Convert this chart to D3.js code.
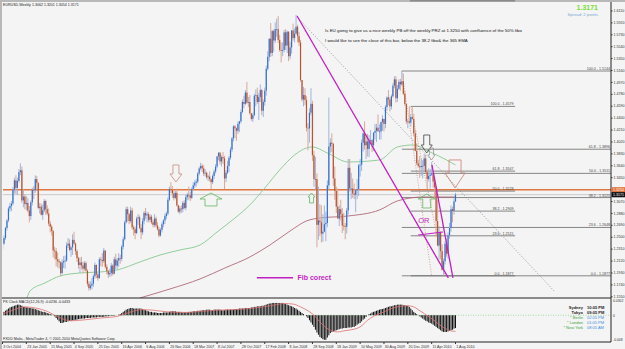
<!DOCTYPE html>
<html>
<head>
<meta charset="utf-8">
<script src="https://cdn.jsdelivr.net/npm/d3@7"></script>
<style>
  body { margin: 0; background: #f4f4f4; }
  svg { display: block; font-family: "Liberation Sans", Arial, sans-serif; }
</style>
</head>
<body>
<div id="chart"></div>
<script>
// EURUSD weekly, week of 3 Oct 2004 .. week of 1 Aug 2010, prices in 1/10000
const firstWeek = new Date(2004, 9, 3)
const firstOpen = 12300
const closes = [
  12390,12480,12640,12760,12950,12990,13030,13250,13400,13280,13390,13530,13560,
  13080,13140,13020,13040,12920,12830,13050,13250,13240,13420,13360,12960,12980,12850,12920,13070,12940,12870,12710,12660,12590,12280,12270,12140,12110,12090,11920,12090,12110,12120,12360,12390,12290,12330,12450,12390,12270,12160,12050,12090,12040,11990,12080,11960,11750,11680,11720,11750,11870,12050,11900,11840,
  12140,12130,12110,12280,12020,11950,11900,11920,12040,11910,12140,12040,12120,12160,12150,12340,12460,12730,12940,12860,12750,12920,12650,12620,12560,12790,12810,12640,12570,12750,12880,12840,12860,12770,12820,12730,12690,12790,12680,12620,12520,12610,12700,12760,12830,12870,13090,13260,13250,13190,13120,13200,
  13000,12900,12950,12940,13040,12960,13130,13170,13160,13120,13260,13320,13360,13380,13510,13590,13630,13590,13510,13520,13450,13460,13420,13370,13470,13540,13620,13780,13840,13700,13770,13750,13430,13520,13630,13760,13890,14070,14260,14230,14190,14300,14340,14490,14650,14620,14800,14640,14650,14470,14380,14440,14750,
  14760,14650,14730,14840,14510,14650,14830,15180,15370,15660,15430,15780,15630,15810,15810,15640,15480,15470,15480,15760,15550,15770,15380,15520,15790,15670,15740,15850,15700,15600,15000,14690,14760,14680,14240,14230,14480,14620,13800,13420,13420,12690,12760,12730,12550,12580,12700,12720,13320,13940,14000,13980,
  13430,13230,12980,12790,12940,12860,12680,12670,12660,12920,13600,13270,13270,13190,13170,13240,13260,13640,13650,14000,14150,13960,14020,13900,14030,14040,13960,14160,14190,14240,14180,14180,14330,14380,14300,14570,14720,14690,14580,14740,14910,15010,14710,14860,14970,14930,14980,14780,14620,14340,14340,14320,
  14410,14380,14150,13870,13670,13630,13610,13630,13630,13750,13530,13420,13470,13490,13510,13380,13290,12750,12360,12570,12270,11970,12110,12390,12230,12520,12640,12940,12910,13062,13171
]
const highs = [
  12420,12520,12660,12780,12980,13040,13070,13290,13440,13480,13440,13580,13670,
  13620,13260,13180,13150,13120,12990,13080,13280,13310,13480,13470,13370,13040,13030,13010,13100,13090,13000,12950,12750,12690,12610,12340,12320,12250,12150,12110,12140,12190,12200,12410,12480,12460,12350,12540,12580,12410,12300,12180,12170,12180,12100,12110,12110,11980,11790,11790,11840,11900,12090,12060,11920,
  12170,12180,12240,12320,12270,12060,11970,11990,12080,12060,12180,12230,12160,12240,12210,12370,12500,12760,12980,12980,12880,12980,12960,12680,12660,12820,12860,12840,12700,12800,12910,12960,12900,12890,12860,12850,12770,12860,12820,12730,12660,12640,12730,12780,12870,12900,13130,13300,13370,13310,13230,13230,
  13270,13010,12990,13000,13070,13080,13170,13200,13300,13220,13290,13370,13400,13420,13530,13620,13680,13660,13640,13580,13540,13490,13540,13430,13500,13570,13660,13790,13850,13850,13800,13850,13790,13560,13710,13790,13930,14090,14280,14280,14240,14340,14350,14530,14690,14750,14840,14970,14730,14760,14450,14480,14780,
  14850,14880,14790,14930,14860,14690,14880,15230,15460,15660,15910,15800,15810,15920,15980,16020,15720,15600,15600,15800,15810,15790,15780,15610,15800,15900,15820,16040,15880,15770,15640,15000,14890,14870,14740,14310,14550,14870,14670,13870,13770,13510,13300,13020,13000,12860,13000,12900,13400,14720,14070,14150,
  14000,13620,13300,13270,13000,13090,12960,12880,12720,12960,13740,13740,13520,13430,13350,13250,13420,13660,13740,14050,14160,14340,14120,14140,14120,14200,14060,14170,14300,14300,14450,14290,14340,14440,14380,14600,14740,14840,14730,14770,14950,15060,15060,14920,15010,15020,15144,15100,14830,14620,14380,14580,
  14460,14580,14460,14200,13990,13730,13790,13740,13720,13820,13810,13570,13590,13580,13690,13530,13460,13310,13090,12670,12590,12380,12150,12430,12470,12570,12720,13000,12980,13110,13201
]
const lows = [
  12280,12370,12450,12600,12730,12900,12910,13000,13190,13180,13170,13360,13480,
  13040,12970,12940,12920,12890,12730,12770,13000,13100,13200,13230,12940,12870,12840,12770,12890,12850,12840,12670,12570,12520,12170,12140,12030,12010,11990,11870,11900,12000,11990,12100,12320,12270,12180,12210,12370,12210,12100,11990,11920,11980,11920,11960,11940,11710,11640,11650,11660,11700,11830,11840,11800,
  11830,12030,12020,12080,11990,11900,11840,11860,11870,11880,11900,11980,11990,12020,12070,12110,12300,12440,12710,12740,12700,12720,12610,12520,12460,12540,12690,12620,12460,12530,12700,12780,12730,12730,12730,12700,12650,12650,12650,12600,12490,12500,12570,12650,12700,12780,12840,13070,13200,13120,13080,13100,
  12980,12880,12860,12880,12890,12940,12920,13080,13090,13070,13100,13240,13280,13300,13350,13480,13560,13530,13470,13460,13420,13390,13380,13260,13340,13420,13510,13590,13720,13650,13620,13660,13260,13370,13500,13530,13730,13850,14020,14070,14030,14140,14170,14310,14470,14550,14600,14620,14570,14450,14350,14330,14420,
  14580,14620,14360,14650,14440,14410,14590,14750,15150,15300,15370,15380,15450,15590,15690,15590,15450,15280,15380,15440,15480,15430,15300,15330,15420,15630,15600,15730,15600,15540,14970,14660,14580,14600,14180,13880,14000,14440,13710,13300,13250,12330,12450,12510,12410,12420,12570,12430,12650,13250,13840,13850,
  13310,13090,12880,12790,12670,12760,12560,12600,12460,12550,12850,13220,13100,13120,13100,12890,13100,13150,13460,13550,13860,13890,13740,13780,13770,13980,13850,13870,14050,14010,14180,14050,14050,14190,14180,14230,14510,14600,14500,14530,14720,14870,14640,14650,14840,14830,14900,14760,14590,14300,14230,14300,
  14260,14370,14100,13860,13640,13600,13440,13470,13430,13550,13510,13260,13380,13270,13470,13280,13110,12520,12350,12140,12140,11960,11877,12060,12180,12150,12470,12580,12730,12850,13054
]
// MACD(12,26,9) main line per week, in 1/1000
const macdMain = [
  4,6,8,10,12,14,15,16,17,18,19,19, 18,17,15,15,14,14,13,13,12,12, 11,10,9,8,7,6,6,5,4,3,2,1,0,
  -2,-5,-8,-11,-14, -14,-13,-12,-12,-11,-10,-10, -9,-9,-8,-8,-7,-7,-6,-6,-6,-5,-5, -5,-5,-4,-4,-4,-4,-3,-3,-3,
  -3,-3,-2,-2,-2,-1,-1,-1,-1,0,0, 1,2,4,6,8,10,11,12, 13,13,12,12,12,12,12,12, 11,10,9,8,7,6,6,5,
  5,5,4,4,4,4,5,5,5,5, 6,7,7,7,7,6,6,6,5,5,5,5,5, 6,6,6,7,7,7,8,8,8, 9,9,9,10,10,10,9,9,10,10,10,
  10,10,9,9,9,10,10,10,10,10,10, 11,11,11,12,12,12,12,13,13,13,13, 14,14,15,15,16,16,16,17,17, 18,19,20,21,21,22,22,
  22,22,22,22,22,22,21, 20,19,18,17,16,15, 13,12,10,8,6, 4,2,0,-2,-5, -9,-13,-17,-21, -26,-31,-35,-39, -41,-43,-44,-44,
  -40,-36,-32, -30,-29,-28,-27,-26, -25,-24,-24,-23,-23,-23,-22,-22,-22,-21,-21, -19,-17,-15,-14, -11,-8,-6,-3,0,
  2,3,5,6, 7,8,9,10,11,11,12, 13,14,15,16,16,17, 18,18,19,19,19, 19,18,18,17,17, 15,12,9,6,4,2,0,
  -2,-4,-6,-8,-10,-11,-13,-14,-15,-17, -19,-21,-23,-25,-27,-29,-30, -30,-30,-29,-28,-27,-26,-24,-23
]
// signal line read at [week, 1/1000]
const macdSignal = [[0,2],[8,10],[15,15],[22,13],[30,7],[38,-4],[46,-10],[56,-8],[66,-5],[77,-2],[85,5],[93,10],
  [101,9],[111,6],[124,5],[133,7],[144,9],[155,10],[166,12],[175,15],[182,18],[189,21],[195,20],[200,15],[205,8],
  [209,0],[213,-12],[217,-22],[220,-27],[225,-30],[229,-28],[236,-25],[240,-21],[245,-9],[249,-2],[256,6],[262,13],
  [267,16],[272,17],[276,15],[279,10],[283,3],[289,-8],[296,-22],[301,-28],[304,-29]]
// moving averages read at [week, price]
const emaGreen = [[16.4,1.1524],[18.5,1.1635],[28.5,1.1763],[38.6,1.1874],[52,1.1922],[65.4,1.1938],[76.8,1.1970],
  [92.3,1.2098],[105.7,1.2209],[119.1,1.2289],[132.6,1.2369],[144,1.2576],[156,1.2799],[166,1.3007],[176,1.3278],
  [186,1.3565],[196,1.3804],[204,1.3916],[208,1.3932],[218,1.3836],[232,1.3693],[253,1.3725],[265,1.3932],
  [275.5,1.3964],[287,1.3852],[298,1.3725],[304,1.3645]]
const emaRed = [[92.3,1.1524],[112.4,1.1667],[132.6,1.1827],[149.3,1.2002],[166,1.2177],[179.5,1.2369],[193,1.2592],
  [204,1.2752],[213,1.2799],[232,1.2831],[253,1.2927],[265,1.3071],[282,1.3134],[304,1.3134]]

const priceTicks = [1.6110,1.5920,1.5730,1.5540,1.5350,1.5160,1.4970,1.4780,1.4590,1.4400,1.4210,1.4020,1.3830,
  1.3640,1.3450,1.3070,1.2880,1.2690,1.2500,1.2310,1.2120,1.1930,1.1740,1.1550]
const macdTicks = ["0.0302", "0", "-0.048"]
const fibLevels = ["100.0","61.8","50.0","38.2","23.6","0.0"]
const fibPricesA = [1.5144,1.3896,1.3511,1.3125,1.2648,1.1877]
const fibPricesB = [1.4579,1.3547,1.3228,1.2909,1.2515,1.1877]
const przPrice = 1.3250
const lastPrice = 1.3171
const clockCities = ["Sydney","Tokyo","* Berlin","* London","* New York"]
const clockTimes = ["10:05 PM","09:05 PM","02:05 PM","01:05 PM","08:05 AM"]

const W = 625, H = 349
const pL = 3, pR = 611, pT = 3, mainBottom = 298, macdBottom = 342
const fs = 3.6

const svg = d3.select("#chart").append("svg").attr("width", W).attr("height", H)
svg.append("rect").attr("width", W).attr("height", H).attr("fill", "#f4f4f4")
svg.append("rect").attr("width", W).attr("height", 2).attr("fill", "#b8b8b8")
svg.append("rect").attr("x", 410).attr("width", 105).attr("height", 1.5).attr("fill", "#8a8a8a")
svg.append("rect").attr("width", 2).attr("height", H).attr("fill", "#b8b8b8")

const x = d3.scaleLinear().domain([0, 304]).range([2.5, 455.5])
const y = d3.scaleLinear().domain([1.1877, 1.5144]).range([275.8, 71])
const yM = d3.scaleLinear().domain([-48, 30]).range([342, 298.5])

svg.append("clipPath").attr("id", "main").append("rect")
  .attr("x", pL).attr("y", pT).attr("width", pR - pL).attr("height", mainBottom - pT)
svg.append("clipPath").attr("id", "macd").append("rect")
  .attr("x", pL).attr("y", mainBottom + 1).attr("width", pR - pL).attr("height", macdBottom - mainBottom - 1)

const main = svg.append("g").attr("clip-path", "url(#main)")

// horizontal lines: PRZ and bid
main.append("line").attr("x1", pL).attr("x2", pR).attr("y1", y(lastPrice)).attr("y2", y(lastPrice))
  .attr("stroke", "#c9c9c9").attr("stroke-width", 1)
main.append("line").attr("x1", pL).attr("x2", pR).attr("y1", y(przPrice)).attr("y2", y(przPrice))
  .attr("stroke", "#e0763f").attr("stroke-width", 1.6)

// fibo A (to the right edge) and fibo B (short)
fibPricesA.forEach((p, i) => {
  main.append("line").attr("x1", x(268)).attr("x2", pR).attr("y1", y(p)).attr("y2", y(p))
    .attr("stroke", "#6a6a6a").attr("stroke-width", 0.8)
  main.append("text").attr("x", pR - 1).attr("y", y(p) - 1).attr("text-anchor", "end")
    .attr("font-size", fs).attr("fill", "#444").text(fibLevels[i] + " - " + p.toFixed(4))
})
fibPricesB.forEach((p, i) => {
  main.append("line").attr("x1", x(274)).attr("x2", x(344)).attr("y1", y(p)).attr("y2", y(p))
    .attr("stroke", "#6a6a6a").attr("stroke-width", 0.8)
  main.append("text").attr("x", x(343)).attr("y", y(p) - 1).attr("text-anchor", "end")
    .attr("font-size", fs).attr("fill", "#444").text(fibLevels[i] + " - " + p.toFixed(4))
})
main.append("line").attr("x1", x(268)).attr("y1", y(1.5144)).attr("x2", x(288)).attr("y2", y(1.1877))
  .attr("stroke", "#b5705a").attr("stroke-width", 0.6).attr("stroke-dasharray", "1,1.5")
main.append("line").attr("x1", x(274)).attr("y1", y(1.4579)).attr("x2", x(297)).attr("y2", y(1.1877))
  .attr("stroke", "#b5705a").attr("stroke-width", 0.6).attr("stroke-dasharray", "1,1.5")

// moving averages
const maLine = d3.line().x(d => x(d[0])).y(d => y(d[1])).curve(d3.curveMonotoneX)
main.append("path").attr("d", maLine(emaGreen)).attr("fill", "none").attr("stroke", "#86c98f").attr("stroke-width", 0.9)
main.append("path").attr("d", maLine(emaRed)).attr("fill", "none").attr("stroke", "#b06a78").attr("stroke-width", 0.9)

// dotted trendline from the 2008 top
main.append("line").attr("x1", x(197.7)).attr("y1", y(1.6005)).attr("x2", x(370.8)).attr("y2", y(1.1619))
  .attr("stroke", "#777").attr("stroke-width", 0.7).attr("stroke-dasharray", "1,1.6")

// candles
const candles = closes.map((c, i) => ({
  i, o: (i ? closes[i - 1] : firstOpen) / 1e4, c: c / 1e4, h: highs[i] / 1e4, l: lows[i] / 1e4
}))
main.selectAll(".wick").data(candles).enter().append("line")
  .attr("x1", d => x(d.i)).attr("x2", d => x(d.i))
  .attr("y1", d => y(Math.max(d.h, d.o, d.c))).attr("y2", d => y(Math.min(d.l, d.o, d.c)))
  .attr("stroke", d => d.c >= d.o ? "#9db5e0" : "#d8a896").attr("stroke-width", 1)
main.selectAll(".body").data(candles).enter().append("rect")
  .attr("x", d => x(d.i) - 0.6).attr("width", 1.2)
  .attr("y", d => y(Math.max(d.o, d.c)))
  .attr("height", d => Math.max(0.8, Math.abs(y(d.o) - y(d.c))))
  .attr("fill", d => d.c >= d.o ? "#3470d0" : "#b9522e")

// magenta drawings
const mag = "#c21fc2"
const seg = (w1, p1, w2, p2, sw) => main.append("line")
  .attr("x1", x(w1)).attr("y1", y(p1)).attr("x2", x(w2)).attr("y2", y(p2))
  .attr("stroke", mag).attr("stroke-width", sw)
seg(197.7, 1.6021, 299.2, 1.1843, 1.3)
seg(288.2, 1.3645, 302.3, 1.1843, 1.3)
seg(278.9, 1.2528, 295.6, 1.2576, 1.1)
main.append("text").attr("x", x(279)).attr("y", y(1.2720)).attr("font-size", 7.5).attr("fill", mag).text("OR")
seg(170.8, 1.1846, 195, 1.1846, 1.3)
main.append("text").attr("x", x(198)).attr("y", y(1.1815)).attr("font-size", 7).attr("font-weight", "bold")
  .attr("fill", mag).text("Fib corect")

// block arrows anchored in week/price space
function blockArrow(w, tip, tail, shaft, head, headLen, color) {
  const cx = x(w), ty = y(tip), by = y(tail)
  const dir = ty > by ? 1 : -1
  const hy = ty - dir * headLen
  main.append("path")
    .attr("d", `M${cx - shaft},${by}L${cx + shaft},${by}L${cx + shaft},${hy}L${cx + head},${hy}L${cx},${ty}L${cx - head},${hy}L${cx - shaft},${hy}Z`)
    .attr("fill", "none").attr("stroke", color).attr("stroke-width", 0.8)
}
blockArrow(116.4, 1.3374, 1.3645, 3, 6, 8, "#c98a78")
blockArrow(139.9, 1.3198, 1.2991, 6, 11, 6, "#5fb65f")
blockArrow(207.4, 1.3198, 1.3039, 2, 3.5, 4, "#5fb65f")
blockArrow(284.7, 1.3836, 1.4123, 3, 5.5, 8, "#444")
blockArrow(287.9, 1.3725, 1.3916, 2, 3.5, 5, "#999")
blockArrow(284.7, 1.3182, 1.2959, 4, 8.5, 5, "#5fb65f")
blockArrow(303.7, 1.3278, 1.3725, 6, 10, 15, "#c77e6c")

// MACD pane
const macd = svg.append("g").attr("clip-path", "url(#macd)")
macd.append("line").attr("x1", pL).attr("x2", pR).attr("y1", yM(0)).attr("y2", yM(0))
  .attr("stroke", "#7fd07f").attr("stroke-width", 0.7).attr("stroke-dasharray", "1,1.5")
macd.selectAll(".hist").data(macdMain).enter().append("rect")
  .attr("x", (d, i) => x(i) - 0.5).attr("width", 1)
  .attr("y", d => yM(Math.max(0, d))).attr("height", d => Math.abs(yM(d) - yM(0)))
  .attr("fill", "#111")
macd.append("path").attr("d", d3.line().x(d => x(d[0])).y(d => yM(d[1])).curve(d3.curveMonotoneX)(macdSignal))
  .attr("fill", "none").attr("stroke", "#e07070").attr("stroke-width", 0.8)

// frame lines
svg.append("line").attr("x1", 2).attr("x2", pR).attr("y1", mainBottom).attr("y2", mainBottom).attr("stroke", "#222").attr("stroke-width", 1)
svg.append("line").attr("x1", 2).attr("x2", pR).attr("y1", macdBottom).attr("y2", macdBottom).attr("stroke", "#222").attr("stroke-width", 1)

// right price axis
const yAxis = d3.axisRight(y).tickValues(priceTicks).tickFormat(d3.format(".4f")).tickSize(1.5).tickPadding(1)
const ya = svg.append("g").attr("transform", `translate(${pR},0)`).call(yAxis)
ya.select(".domain").attr("d", `M0,2V${macdBottom}`).attr("stroke", "#222")
ya.selectAll("text").attr("font-size", fs).attr("fill", "#333").attr("font-family", "Liberation Sans, Arial, sans-serif")
ya.selectAll("line").attr("stroke", "#333")

// price tags
const tag = (p, bg) => {
  svg.append("rect").attr("x", pR + 0.5).attr("y", y(p) - 2.6).attr("width", 14).attr("height", 5.2).attr("fill", bg)
  svg.append("text").attr("x", pR + 2).attr("y", y(p) + 1.3).attr("font-size", fs).attr("fill", "#fff").text(p.toFixed(4))
}
tag(przPrice, "#e0763f")
tag(lastPrice, "#111")

// MACD axis
const ma = svg.append("g").attr("font-size", 3.4).attr("fill", "#333")
ma.append("text").attr("x", pR + 2).attr("y", 301.5).text(macdTicks[0])
ma.append("text").attr("x", pR + 2).attr("y", yM(0) + 1.3).text(macdTicks[1])
ma.append("text").attr("x", pR + 2).attr("y", 341).text(macdTicks[2])

// bottom time axis
const timeFmt = d3.timeFormat("%-d %b %Y")
const xTickWeeks = d3.range(0, 305, 16)
const xa = svg.append("g")
xTickWeeks.forEach(w => {
  xa.append("line").attr("x1", x(w)).attr("x2", x(w)).attr("y1", macdBottom).attr("y2", macdBottom + 2).attr("stroke", "#333")
  xa.append("text").attr("x", x(w) + 0.8).attr("y", 347.5).attr("font-size", fs).attr("fill", "#333")
    .text(timeFmt(d3.timeWeek.offset(firstWeek, w)))
})

// texts
svg.append("text").attr("x", 3).attr("y", 6.3).attr("font-size", fs).attr("fill", "#222")
  .text("EURUSD,Weekly  1.3062 1.3201 1.3054 1.3171")
svg.append("text").attr("x", 598).attr("y", 9.5).attr("text-anchor", "end").attr("font-size", 7)
  .attr("font-weight", "bold").attr("fill", "#77dd33").text("1.3171")
svg.append("text").attr("x", 598).attr("y", 15.5).attr("text-anchor", "end").attr("font-size", 4.2)
  .attr("fill", "#7aa8d8").text("Spread: 2 points")
svg.append("text").attr("x", 325).attr("y", 32).attr("font-size", 4.4).attr("fill", "#111")
  .text("Is EU going to give us a nice weekly PB off the weekly PRZ at 1.3250 with confluence of the 50% fibo")
svg.append("text").attr("x", 325).attr("y", 42).attr("font-size", 4.4).attr("fill", "#111")
  .text("I would like to see the close of this bar, below the 38.2 fibo& the 365 EMA")

svg.append("text").attr("x", 3).attr("y", 302.8).attr("font-size", fs).attr("fill", "#222")
  .text("PK Clock      MACD(12,26,9) -0.0236 -0.0433")
svg.append("text").attr("x", 3).attr("y", 340).attr("font-size", fs).attr("fill", "#222")
  .text("FXDD Malta - MetaTrader 4, \u00a9 2001-2010 MetaQuotes Software Corp.")

clockCities.forEach((c, i) => {
  const cy = 308.5 + i * 5.2
  const world = i >= 2
  svg.append("text").attr("x", 583).attr("y", cy).attr("text-anchor", "end").attr("font-size", 4)
    .attr("font-weight", world ? "normal" : "bold").attr("fill", world ? "#3aa53a" : "#222").text(c)
  svg.append("text").attr("x", 587).attr("y", cy).attr("font-size", 4)
    .attr("font-weight", world ? "normal" : "bold").attr("fill", world ? "#3d8fe0" : "#222").text(clockTimes[i])
})
</script>
</body>
</html>
